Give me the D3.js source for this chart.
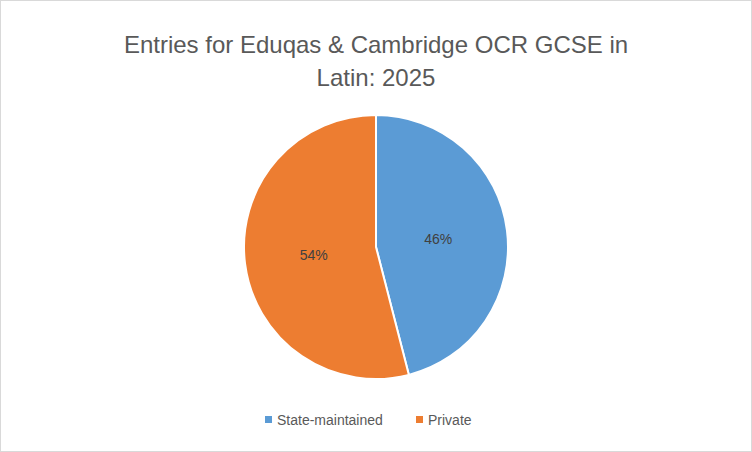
<!DOCTYPE html>
<html>
<head>
<meta charset="utf-8">
<script src="https://cdn.jsdelivr.net/npm/d3@7"></script>
<style>
  body { margin: 0; background: #fff; }
  text { font-family: "Liberation Sans", "Open Sans", sans-serif; }
</style>
</head>
<body>
<div id="app"></div>
<script>
const categories = ["State-maintained", "Private"];
const shares = [46, 54];
const colours = ["#5B9BD5", "#ED7D31"];
const titleLines = ["Entries for Eduqas & Cambridge OCR GCSE in", "Latin: 2025"];

const width = 752, height = 452;
const cx = 376, cy = 247, radius = 132;

const svg = d3.select("#app").append("svg")
  .attr("width", width)
  .attr("height", height);

svg.append("rect")
  .attr("x", 0.5).attr("y", 0.5)
  .attr("width", width - 1).attr("height", height - 1)
  .attr("fill", "#fff")
  .attr("stroke", "#d9d9d9");

// title
svg.append("g").selectAll("text")
  .data(titleLines)
  .join("text")
  .attr("x", cx)
  .attr("y", (d, i) => 53 + i * 33)
  .attr("text-anchor", "middle")
  .attr("font-size", 24)
  .attr("fill", "#595959")
  .text((d) => d);

const pie = d3.pie().sort(null).value((d) => d);
const arcs = pie(shares);
const arc = d3.arc().innerRadius(0).outerRadius(radius);
const labelArc = d3.arc().innerRadius(0).outerRadius(radius * 0.95);

const g = svg.append("g").attr("transform", `translate(${cx},${cy})`);

g.selectAll("path")
  .data(arcs)
  .join("path")
  .attr("d", arc)
  .attr("fill", (d, i) => colours[i])
  .attr("stroke", "#fff")
  .attr("stroke-width", 2);

g.selectAll("text")
  .data(arcs)
  .join("text")
  .attr("transform", (d) => `translate(${labelArc.centroid(d)})`)
  .attr("text-anchor", "middle")
  .attr("dy", "0.35em")
  .attr("font-size", 14)
  .attr("fill", "#404040")
  .text((d) => d.data + "%");

// legend
const legendX = [265, 416];
const legend = svg.append("g").selectAll("g")
  .data(categories)
  .join("g")
  .attr("transform", (d, i) => `translate(${legendX[i]},420)`);

legend.append("rect")
  .attr("x", 0).attr("y", -4)
  .attr("width", 7).attr("height", 7)
  .attr("fill", (d, i) => colours[i]);

legend.append("text")
  .attr("x", 12)
  .attr("dy", "0.35em")
  .attr("font-size", 14)
  .attr("fill", "#595959")
  .text((d) => d);
</script>
</body>
</html>
